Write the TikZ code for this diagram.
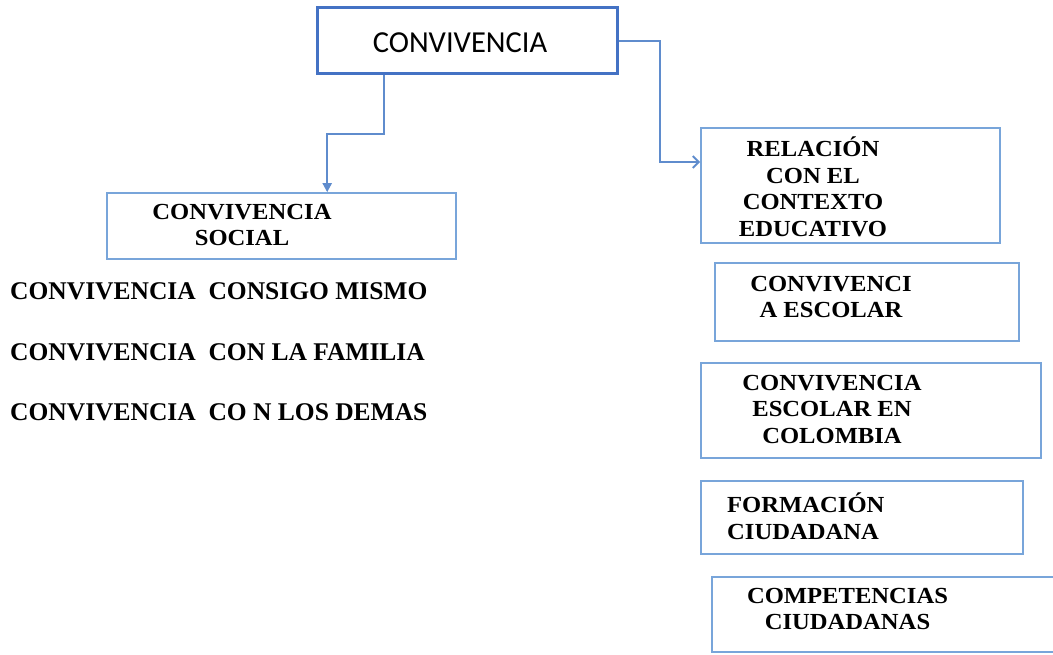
\documentclass[tikz,border=0pt]{standalone}
\usepackage{fontspec}
\usetikzlibrary{arrows.meta}
\newfontfamily\tnr[FakeStretch=1.07]{Liberation Serif}
\newfontfamily\tnrL{Liberation Serif}
\newfontfamily\calfont{Carlito}
\definecolor{boxblue}{RGB}{120,165,218}
\definecolor{topblue}{RGB}{68,114,196}
\definecolor{arrblue}{RGB}{95,140,205}
\begin{document}
\begin{tikzpicture}[x=1pt,y=-1pt]
\useasboundingbox (0,0) rectangle (1053,655);
\tikzset{
  box/.style n args={2}{draw=boxblue, line width=1.6pt, minimum width=#1, minimum height=#2, inner sep=0pt},
  ttext/.style={font=\tnr\bfseries\fontsize{23}{26.5}\selectfont, align=center, inner sep=0pt, text=black},
  ltext/.style={font=\tnrL\bfseries\fontsize{25.5}{28}\selectfont, anchor=west, inner sep=0pt, text=black},
  conn/.style={draw=arrblue, line width=2pt},
}
% boxes
\node[draw=topblue, line width=3pt, minimum width=300pt, minimum height=66pt, inner sep=0pt] (top) at (467,41) {};
\node[box={349pt}{66pt}] (social) at (281.5,226) {};
\node[box={299pt}{115pt}] (r1) at (850.5,185.5) {};
\node[box={304pt}{78pt}] (r2) at (867,302) {};
\node[box={340pt}{95pt}] (r3) at (871,410.5) {};
\node[box={322pt}{73pt}] (r4) at (862,517.5) {};
\node[box={358pt}{75pt}] (r5) at (891,614.5) {};
% texts
\node[font=\calfont\fontsize{30.5}{34}\selectfont, inner sep=0pt] (t0) at (460,43) {CONVIVENCIA};
\node[ttext] (ts) at (242,225) {CONVIVENCIA\\SOCIAL};
\node[ttext] (t1) at (813,187) {RELACIÓN\\CON EL\\CONTEXTO\\EDUCATIVO};
\node[ttext] (t2) at (831,297) {CONVIVENCI\\A ESCOLAR};
\node[ttext] (t3) at (832,409) {CONVIVENCIA\\ESCOLAR EN\\COLOMBIA};
\node[ttext, align=left, anchor=west] (t4) at (727,516) {FORMACIÓN\\CIUDADANA};
\node[ttext] (t5) at (847.5,609) {COMPETENCIAS\\CIUDADANAS};
\node[ltext] (l1) at (10,291) {CONVIVENCIA\ \ CONSIGO MISMO};
\node[ltext] (l2) at (10,352.5) {CONVIVENCIA\ \ CON LA FAMILIA};
\node[ltext] (l3) at (10,412.5) {CONVIVENCIA\ \ CO N LOS DEMAS};
% connectors
\draw[conn, -{Triangle[length=9pt,width=9pt]}] ([xshift=68pt]top.south west) -- ++(0,59) -| ([xshift=221pt]social.north west);
\draw[conn, -{Straight Barb[length=6pt,width=12pt]}] (top.east) -- ++(41,0) |- ([yshift=23.5pt]r1.west);
\end{tikzpicture}
\end{document}
